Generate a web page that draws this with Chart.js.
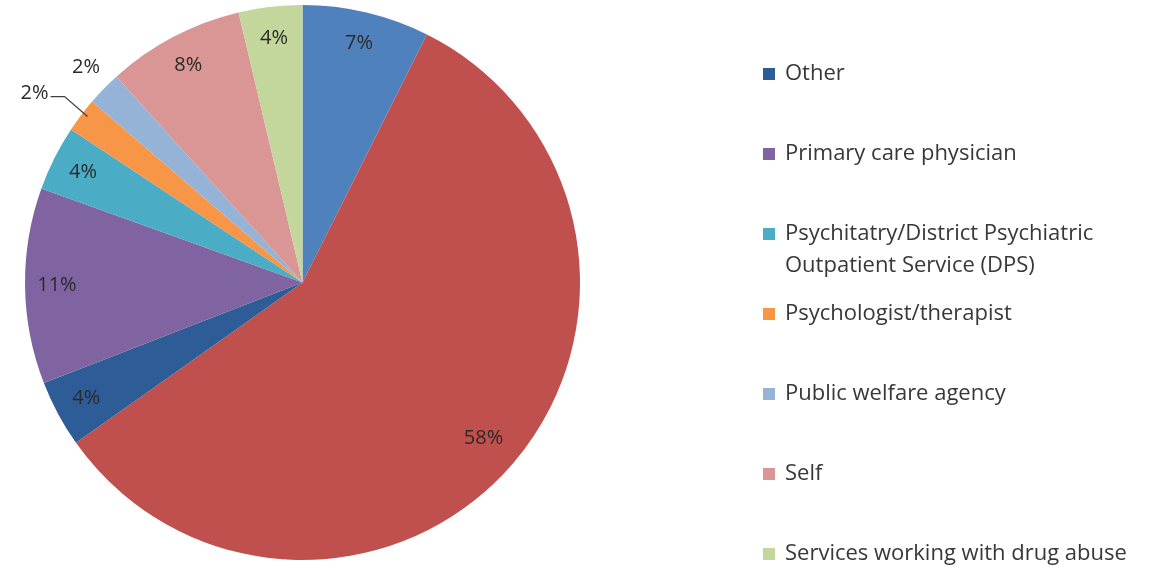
<!DOCTYPE html>
<html>
<head>
<meta charset="utf-8">
<script src="https://cdn.jsdelivr.net/npm/chart.js@4.4.1/dist/chart.umd.min.js"></script>
<style>
html,body{margin:0;padding:0;background:#fff;overflow:hidden;}
#wrap{position:relative;width:1150px;height:567px;}
</style>
</head>
<body>
<div id="wrap"><canvas id="c" width="1150" height="567"></canvas></div>
<script>
const categories = [
  'Antenatal clinic',
  'Midwife',
  'Other',
  'Primary care physician',
  'Psychitatry/District Psychiatric Outpatient Service (DPS)',
  'Psychologist/therapist',
  'Public welfare agency',
  'Self',
  'Services working with drug abuse'
];
const shares = [7.4, 57.8, 3.9, 11.4, 3.8, 2.0, 2.0, 8.0, 3.7];
const colors = ['#4F81BD', '#C0504D', '#2E5C96', '#8064A2', '#4BACC6', '#F79646', '#95B3D7', '#D99694', '#C3D69B'];

const FONT = '"Open Sans", "DejaVu Sans", sans-serif';

const sliceLabels = {
  id: 'sliceLabels',
  afterDatasetsDraw(chart) {
    const ctx = chart.ctx;
    const meta = chart.getDatasetMeta(0);
    const data = chart.data.datasets[0].data;
    const total = data.reduce((a, b) => a + b, 0);
    ctx.save();
    ctx.font = '20px ' + FONT;
    ctx.fillStyle = '#2a2a2a';
    ctx.textBaseline = 'middle';
    meta.data.forEach((arc, i) => {
      const mid = (arc.startAngle + arc.endAngle) / 2;
      const r = arc.outerRadius;
      const txt = Math.round(data[i] / total * 100) + '%';
      const cx = Math.cos(mid), sy = Math.sin(mid);
      if (i === 5) {
        const ex = arc.x + cx * r * 0.98 + 2, ey = arc.y + sy * r * 0.98 - 2;
        const bx = ex - 23, by = ey - 20;
        ctx.strokeStyle = '#404040';
        ctx.lineWidth = 1.3;
        ctx.beginPath();
        ctx.moveTo(ex, ey);
        ctx.lineTo(bx, by);
        ctx.lineTo(bx - 14, by);
        ctx.stroke();
        ctx.textAlign = 'right';
        ctx.fillText(txt, bx - 16, by - 3);
      } else if (i === 6) {
        ctx.textAlign = 'center';
        ctx.fillText(txt, arc.x + cx * r * 1.1 + 2, arc.y + sy * r * 1.1 - 2);
      } else {
        const f = i === 1 ? 0.86 : 0.885;
        ctx.textAlign = 'center';
        ctx.fillText(txt, arc.x + cx * r * f, arc.y + sy * r * f);
      }
    });
    ctx.restore();
  }
};

const sideLegend = {
  id: 'sideLegend',
  afterDraw(chart) {
    const ctx = chart.ctx;
    const labels = chart.data.labels;
    const cols = chart.data.datasets[0].backgroundColor;
    ctx.save();
    ctx.font = '22px ' + FONT;
    ctx.textBaseline = 'middle';
    ctx.textAlign = 'left';
    const x0 = 763, tx = 785, maxW = 385, step = 80, top = -86, lh = 32;
    labels.forEach((lab, i) => {
      const y = top + step * i;
      ctx.fillStyle = cols[i];
      ctx.fillRect(x0, y - 6, 12, 12);
      const words = lab.split(' ');
      const lines = [];
      let cur = '';
      words.forEach(w => {
        const t = cur ? cur + ' ' + w : w;
        if (ctx.measureText(t).width > maxW && cur) { lines.push(cur); cur = w; }
        else cur = t;
      });
      if (cur) lines.push(cur);
      ctx.fillStyle = '#383838';
      lines.forEach((ln, k) => ctx.fillText(ln, tx, y + k * lh));
    });
    ctx.restore();
  }
};

new Chart(document.getElementById('c'), {
  type: 'pie',
  data: {
    labels: categories,
    datasets: [{
      data: shares,
      backgroundColor: colors,
      borderWidth: 0
    }]
  },
  options: {
    responsive: false,
    devicePixelRatio: 1,
    animation: false,
    layout: { padding: { left: 25, right: 570, top: 5, bottom: 7 } },
    plugins: {
      legend: { display: false },
      tooltip: { enabled: false }
    }
  },
  plugins: [sliceLabels, sideLegend]
});
</script>
</body>
</html>
